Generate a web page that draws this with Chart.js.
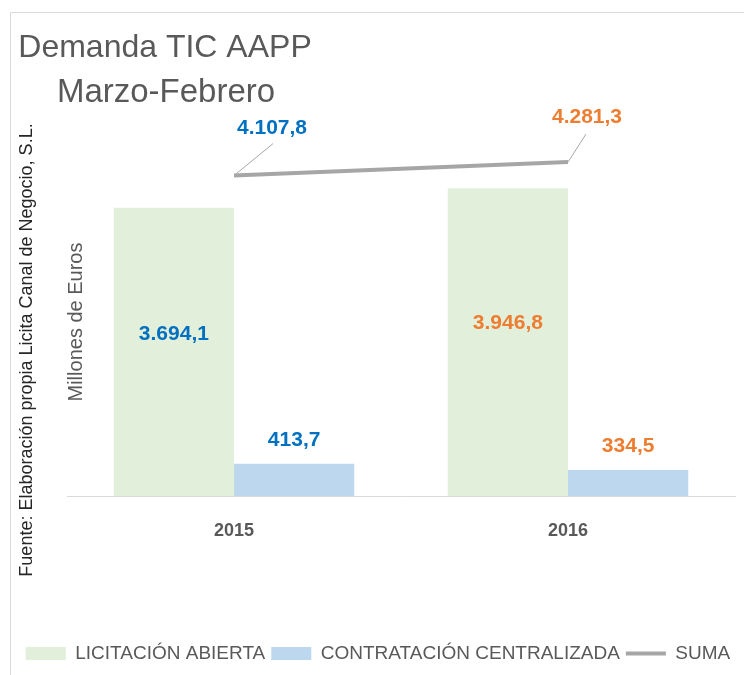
<!DOCTYPE html>
<html lang="es">
<head>
<meta charset="utf-8">
<title>Demanda TIC AAPP</title>
<script src="https://cdn.jsdelivr.net/npm/chart.js@4/dist/chart.umd.min.js"></script>
<style>
    html, body { margin: 0; padding: 0; background: #fff; }
    #contenedor { width: 744px; height: 675px; }
</style>
</head>
<body>
<div id="contenedor"><canvas id="demandaChart" width="744" height="675"></canvas></div>
<script>
// Datos de la gráfica (millones de euros)
const categorias = ['2015', '2016'];
const licitacionAbierta = [3694.1, 3946.8];
const contratacionCentralizada = [413.7, 334.5];
const suma = [4107.8, 4281.3];
const coloresEtiqueta = ['#0070C0', '#ED7D31']; // color de las etiquetas por año

const FUENTE = '"Liberation Sans", Arial, sans-serif';
const GRIS_TEXTO = '#595959';

(function () {
    /**
     * Formatea un número al estilo español: 4.107,8
     * @param {number} valor
     * @returns {string}
     */
    function formatoES(valor) {
        const partes = valor.toFixed(1).split('.');
        const entero = partes[0].replace(/\B(?=(\d{3})+(?!\d))/g, '.');
        return entero + ',' + partes[1];
    }

    // Desplazamiento de las etiquetas de SUMA respecto al punto (línea guía)
    const guiaSuma = [
        { dx: 39, dy: -32, tx: 38, ty: -47 },
        { dx: 18, dy: -28, tx: 19, ty: -45 }
    ];

    // Plugin con los textos y adornos que no ofrece Chart.js
    const adornos = {
        id: 'adornos',
        beforeDraw(chart) {
            const ctx = chart.ctx;
            ctx.save();
            // Marco del gráfico
            ctx.strokeStyle = '#d9d9d9';
            ctx.lineWidth = 1;
            ctx.beginPath();
            ctx.moveTo(10.5, chart.height);
            ctx.lineTo(10.5, 12.5);
            ctx.lineTo(chart.width, 12.5);
            ctx.stroke();
            ctx.restore();
        },
        afterDraw(chart) {
            const ctx = chart.ctx;
            ctx.save();

            // Título en dos líneas
            ctx.fillStyle = GRIS_TEXTO;
            ctx.textAlign = 'center';
            ctx.textBaseline = 'middle';
            ctx.font = '32px ' + FUENTE;
            ctx.fillText('Demanda TIC AAPP', 165, 48);
            ctx.font = '33px ' + FUENTE;
            ctx.fillText('Marzo-Febrero', 166, 93);

            // Fuente (texto vertical)
            ctx.save();
            ctx.translate(27, 350);
            ctx.rotate(-Math.PI / 2);
            ctx.fillStyle = '#262626';
            ctx.font = '18px ' + FUENTE;
            ctx.fillText('Fuente: Elaboración propia Licita Canal de Negocio, S.L.', 0, 0);
            ctx.restore();

            // Título del eje Y
            ctx.save();
            ctx.translate(76, 322);
            ctx.rotate(-Math.PI / 2);
            ctx.fillStyle = GRIS_TEXTO;
            ctx.font = '20px ' + FUENTE;
            ctx.fillText('Millones de Euros', 0, 0);
            ctx.restore();

            ctx.font = 'bold 21px ' + FUENTE;

            // Etiquetas de las barras
            const metaAbierta = chart.getDatasetMeta(0);
            const metaCentral = chart.getDatasetMeta(1);
            metaAbierta.data.forEach((barra, i) => {
                ctx.fillStyle = coloresEtiqueta[i];
                const y = barra.y + (barra.base - barra.y) * 0.44;
                ctx.fillText(formatoES(licitacionAbierta[i]), barra.x, y);
            });
            metaCentral.data.forEach((barra, i) => {
                ctx.fillStyle = coloresEtiqueta[i];
                ctx.fillText(formatoES(contratacionCentralizada[i]), barra.x, barra.y - 24);
            });

            // Etiquetas de SUMA con línea guía
            const metaSuma = chart.getDatasetMeta(2);
            metaSuma.data.forEach((punto, i) => {
                const g = guiaSuma[i];
                ctx.strokeStyle = '#a6a6a6';
                ctx.lineWidth = 1;
                ctx.beginPath();
                ctx.moveTo(punto.x, punto.y);
                ctx.lineTo(punto.x + g.dx, punto.y + g.dy);
                ctx.stroke();
                ctx.fillStyle = coloresEtiqueta[i];
                ctx.fillText(formatoES(suma[i]), punto.x + g.tx, punto.y + g.ty);
            });

            ctx.restore();
        }
    };

    const ctx = document.getElementById('demandaChart').getContext('2d');

    new Chart(ctx, {
        type: 'bar',
        data: {
            labels: categorias,
            datasets: [{
                label: 'LICITACIÓN ABIERTA',
                data: licitacionAbierta,
                backgroundColor: '#E2EFDA',
                borderWidth: 0,
                pointStyle: 'rect'
            }, {
                label: 'CONTRATACIÓN CENTRALIZADA',
                data: contratacionCentralizada,
                backgroundColor: '#BDD7EE',
                borderWidth: 0,
                pointStyle: 'rect'
            }, {
                type: 'line',
                label: 'SUMA',
                data: suma,
                borderColor: '#A6A6A6',
                backgroundColor: '#A6A6A6',
                borderWidth: 4,
                pointRadius: 0,
                pointStyle: 'line',
                tension: 0
            }]
        },
        options: {
            responsive: false,
            animation: false,
            layout: {
                padding: { top: 106, left: 14, right: 2, bottom: 2 }
            },
            datasets: {
                bar: { categoryPercentage: 0.72, barPercentage: 1 }
            },
            plugins: {
                tooltip: { enabled: false },
                legend: {
                    position: 'bottom',
                    labels: {
                        usePointStyle: true,
                        pointStyleWidth: 40,
                        boxHeight: 13,
                        padding: 6,
                        color: GRIS_TEXTO,
                        font: { family: FUENTE, size: 19 }
                    }
                }
            },
            scales: {
                x: {
                    grid: { display: false },
                    border: { color: '#d9d9d9', width: 1 },
                    ticks: {
                        color: GRIS_TEXTO,
                        padding: 16,
                        font: { family: FUENTE, size: 18, weight: 'bold' }
                    },
                    afterFit(scale) {
                        scale.height = 142;
                    }
                },
                y: {
                    min: 0,
                    max: 5000,
                    ticks: { display: false },
                    grid: { display: false },
                    border: { display: false },
                    afterFit(scale) {
                        scale.width = 53;
                    }
                },
                yDer: {
                    position: 'right',
                    min: 0,
                    max: 1,
                    ticks: { display: false },
                    grid: { display: false },
                    border: { display: false },
                    afterFit(scale) {
                        scale.width = 7;
                    }
                }
            }
        },
        plugins: [adornos]
    });
})();
</script>
</body>
</html>
